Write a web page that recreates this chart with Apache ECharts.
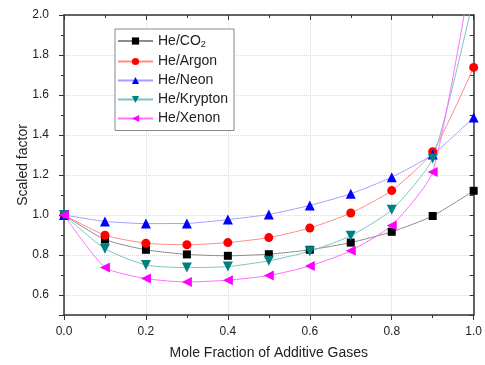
<!DOCTYPE html>
<html>
<head>
<meta charset="utf-8">
<script src="https://cdn.jsdelivr.net/npm/echarts@6/dist/echarts.min.js"></script>
<style>
  html, body { margin: 0; padding: 0; background: #fff; }
  #chart { width: 485px; height: 365px; }
</style>
</head>
<body>
<div id="chart"></div>
<script>
// mole fraction of the additive gas
const fractions = [0, 0.1, 0.2, 0.3, 0.4, 0.5, 0.6, 0.7, 0.8, 0.9, 1.0];

// scaled factor per mixture
const co2 = [1.0, 0.877, 0.826, 0.803, 0.796, 0.804, 0.826, 0.862, 0.916, 0.995, 1.121];
const argon = [1.0, 0.899, 0.859, 0.851, 0.862, 0.887, 0.935, 1.01, 1.122, 1.316, 1.738];
const neon = [1.0, 0.968, 0.957, 0.958, 0.977, 1.003, 1.048, 1.106, 1.189, 1.303, 1.488];
const krypton = [1.0, 0.831, 0.75, 0.737, 0.742, 0.771, 0.819, 0.896, 1.026, 1.283, 2.09];
const xenon = [1.0, 0.738, 0.682, 0.665, 0.674, 0.697, 0.745, 0.821, 0.948, 1.215, 2.28];

const FONT = "Liberation Sans, Arial, sans-serif";
const AXIS = "#333";
const TEXT = "#222";
const GRIDLINE = "#dadada";

const chart = echarts.init(document.getElementById("chart"), null, { renderer: "canvas" });

const pairs = (ys) => fractions.map((x, i) => [x, ys[i]]);

// marker colour vs. (lighter) line colour, like the original plot
const mixtures = [
  { name: "He/CO2", ys: co2, symbol: "rect", size: 8, mark: "#000000", line: "#8c8c8c" },
  { name: "He/Argon", ys: argon, symbol: "circle", size: 9, mark: "#ff0000", line: "#ff8c8c" },
  { name: "He/Neon", ys: neon, symbol: "triangle", size: 10, mark: "#0000ff", line: "#a0a0ff" },
  { name: "He/Krypton", ys: krypton, symbol: "triangle", rotate: 180, size: 10, mark: "#008080", line: "#7cc4c4" },
  { name: "He/Xenon", ys: xenon, symbol: "triangle", rotate: 90, size: 10, mark: "#ff00ff", line: "#ff70ff" },
];

const frameX = (extra) => Object.assign({
  type: "value", min: 0, max: 1, gridIndex: 0,
  axisLine: { show: true, onZero: false, lineStyle: { color: AXIS, width: 1.5 } },
  axisLabel: { show: false },
  splitLine: { show: false },
}, extra);

const frameY = (extra) => Object.assign({
  type: "value", min: 0.5, max: 2.0, gridIndex: 0,
  axisLine: { show: true, onZero: false, lineStyle: { color: AXIS, width: 1.5 } },
  axisLabel: { show: false },
  splitLine: { show: false },
}, extra);

const option = {
  animation: false,
  textStyle: { fontFamily: FONT },
  grid: { left: 64, right: 10, top: 15, bottom: 48, containLabel: false },
  legend: {
    orient: "vertical",
    left: 115,
    top: 29,
    width: 118,
    padding: [5, 6, 5, 2],
    itemWidth: 35,
    itemHeight: 9,
    itemGap: 5,
    borderColor: "#888",
    borderWidth: 1,
    backgroundColor: "#fff",
    textStyle: {
      fontFamily: FONT, fontSize: 14, color: TEXT,
      rich: { sub: { fontFamily: FONT, fontSize: 9, color: TEXT, padding: [8, 0, 0, 0] } },
    },
    formatter: (n) => (n === "He/CO2" ? "He/CO{sub|2}" : n),
    data: mixtures.map((m) => m.name),
  },
  xAxis: [
    frameX({
      position: "bottom",
      interval: 0.2,
      name: "Mole Fraction of Additive Gases",
      nameLocation: "middle",
      nameGap: 31,
      nameMoveOverlap: false,
      nameTextStyle: { fontFamily: FONT, fontSize: 14, color: TEXT },
      axisTick: { show: true, inside: false, length: 5, lineStyle: { color: AXIS } },
      minorTick: { show: true, splitNumber: 2, length: 3, lineStyle: { color: AXIS } },
      axisLabel: { show: true, margin: 11, fontFamily: FONT, fontSize: 12, color: TEXT, formatter: (v) => v.toFixed(1) },
      splitLine: { show: true, lineStyle: { color: GRIDLINE, type: "dotted", width: 1 } },
    }),
    frameX({
      position: "top",
      interval: 0.2,
      axisTick: { show: true, inside: true, length: 5, lineStyle: { color: AXIS } },
      minorTick: { show: true, splitNumber: 2, length: 3, lineStyle: { color: AXIS } },
    }),
  ],
  yAxis: [
    frameY({
      position: "left",
      splitNumber: 7,
      name: "Scaled factor",
      nameLocation: "middle",
      nameGap: 34,
      nameMoveOverlap: false,
      nameTextStyle: { fontFamily: FONT, fontSize: 14, color: TEXT },
      axisTick: { show: true, inside: false, length: 5, lineStyle: { color: AXIS } },
      axisLabel: {
        show: true, margin: 15, fontFamily: FONT, fontSize: 12, color: TEXT,
        formatter: (v) => (Math.abs(v - 0.5) < 1e-6 ? "" : v.toFixed(1)),
      },
      splitLine: { show: true, lineStyle: { color: GRIDLINE, type: "dotted", width: 1 } },
    }),
    // minor ticks every 0.1 on the left
    frameY({
      position: "left",
      interval: 0.1,
      axisLine: { show: false },
      axisTick: { show: true, inside: false, length: 3, lineStyle: { color: AXIS } },
    }),
    // right-hand frame edge, ticks pointing in
    frameY({
      position: "right",
      interval: 0.1,
      axisTick: { show: true, inside: true, length: 4, lineStyle: { color: AXIS } },
    }),
  ],
  series: mixtures.map((m) => ({
    name: m.name,
    type: "line",
    xAxisIndex: 0,
    yAxisIndex: 0,
    data: pairs(m.ys),
    smooth: 0.2,
    clip: true,
    symbol: m.symbol,
    symbolRotate: m.rotate || 0,
    symbolSize: m.size,
    showAllSymbol: true,
    itemStyle: { color: m.mark },
    lineStyle: { color: m.line, width: 1 },
    emphasis: { disabled: true },
  })),
};

chart.setOption(option);
</script>
</body>
</html>
